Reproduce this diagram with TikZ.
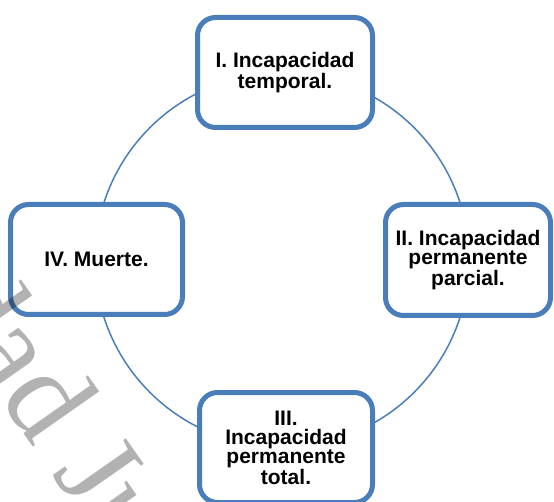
\documentclass[tikz,border=0pt]{standalone}
\usepackage{fontspec}
\setmainfont{Liberation Sans}
\newfontfamily\wmfont{Liberation Serif}
\definecolor{boxblue}{RGB}{74,126,187}
\tikzset{
  stage/.style={draw=boxblue, line width=5pt, rounded corners=18pt, fill=white,
    align=center, inner sep=0pt,
    font=\bfseries\fontsize{21}{19.3}\selectfont},
  ring/.style={draw=boxblue, line width=1.5pt},
  watermark/.style={font=\wmfont\fontsize{124}{124}\selectfont, text=black,
    text opacity=0.3, rotate=-55, anchor=base west, inner sep=0pt}
}
\begin{document}
\begin{tikzpicture}[x=1pt,y=-1pt]
\useasboundingbox (0,0) rectangle (554,502);
\coordinate (c) at (282,260);
\draw[ring] (c) circle[radius=187];
\node[stage, minimum width=175pt, minimum height=110pt] (t1) at (285,72.5) {I. Incapacidad\\temporal.};
\node[stage, minimum width=165pt, minimum height=111pt] (t2) at (468,260) {II. Incapacidad\\permanente\\parcial.};
\node[stage, minimum width=173pt, minimum height=110pt] (t3) at (286,447.5) {III.\\Incapacidad\\permanente\\total.};
\node[stage, minimum width=172pt, minimum height=110pt] (t4) at (96.5,259.5) {IV. Muerte.};
\node[watermark] (wm) at (-69,301) {dad Ju};
\end{tikzpicture}
\end{document}
